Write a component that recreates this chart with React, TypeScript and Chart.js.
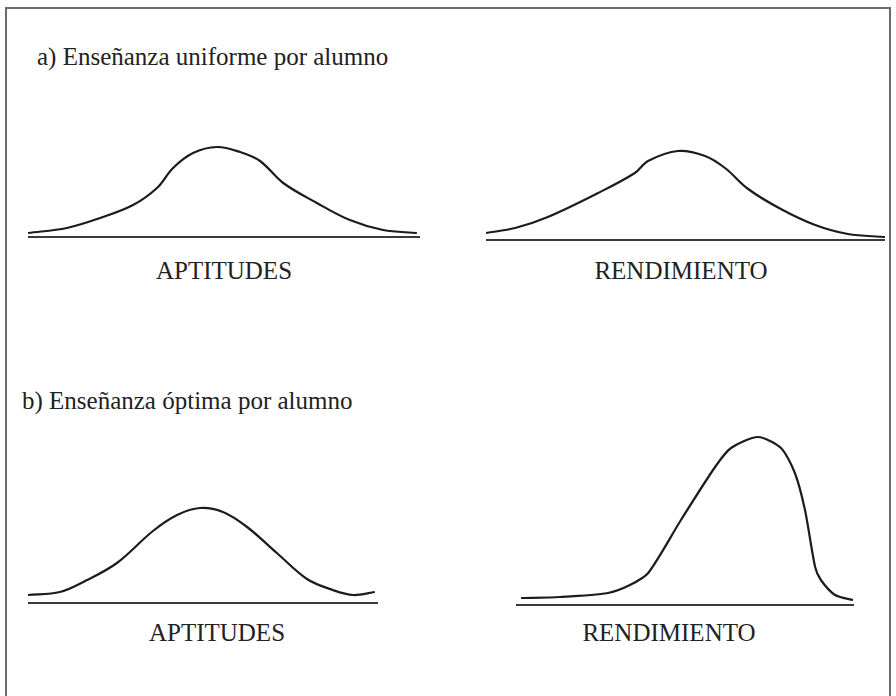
import React, { useEffect, useRef } from "react";
import { Chart, registerables } from "chart.js";

Chart.register(...registerables);

// Horizontal scale: 0–100 across each baseline. Vertical: relative frequency.

// a) Enseñanza uniforme — aptitudes
const uniAptX = [0, 9.9, 18.4, 26.8, 32.9, 37.0, 42.1, 48.2, 54.1, 59.2, 65.1, 73.7, 82.1, 90.6, 99.2];
const uniAptY = [4, 9, 19, 32, 49, 69, 84, 90, 85, 76, 54, 34, 17, 7, 4];

// a) Enseñanza uniforme — rendimiento
const uniRenX = [0, 7.3, 15.5, 28.1, 37.3, 40.6, 48.1, 54.9, 59.9, 65.7, 73.9, 82.5, 90.7, 100];
const uniRenY = [7, 12, 23, 47, 67, 79, 89, 84, 72, 51, 31, 15, 6, 3];

// b) Enseñanza óptima — aptitudes
const optAptX = [0, 9.1, 16.9, 25.4, 35.7, 42.6, 49.1, 55.7, 62.6, 71.1, 79.7, 87.1, 92.9, 99.1];
const optAptY = [8, 11, 23, 40, 72, 88, 95, 91, 76, 50, 24, 13, 8, 11];

// b) Enseñanza óptima — rendimiento
const optRenX = [1.5, 13.0, 27.2, 33.7, 39.1, 48.8, 58.9, 63.6, 71.6, 78.4, 82.5, 85.5, 88.5, 90.2, 94.4, 99.7];
const optRenY = [7, 8, 12, 20, 32, 85, 138, 157, 168, 157, 132, 95, 38, 25, 10, 5];

const sectionTitles = ["a) Enseñanza uniforme por alumno", "b) Enseñanza óptima por alumno"];
const axisLabels = ["APTITUDES", "RENDIMIENTO"];

const SERIF = "'Liberation Serif', 'Times New Roman', 'DejaVu Serif', serif";

type PanelProps = {
  xs: number[];
  ys: number[];
  left: number;
  baseline: number;
  width: number;
  yMax: number;
  tension: number;
};

const Y_MIN = -4;

function CurvePanel({ xs, ys, left, baseline, width, yMax, tension }: PanelProps) {
  const ref = useRef<HTMLCanvasElement | null>(null);
  const height = yMax - Y_MIN;

  useEffect(() => {
    if (!ref.current) return;
    const curve = xs.map((x, i) => ({ x, y: ys[i] }));
    const chart = new Chart(ref.current, {
      type: "line",
      data: {
        datasets: [
          {
            data: [
              { x: 0, y: 0 },
              { x: 100, y: 0 },
            ],
            borderColor: "#3a3a3a",
            borderWidth: 2,
            pointRadius: 0,
          },
          {
            data: curve,
            borderColor: "#1c1c1c",
            borderWidth: 2.2,
            pointRadius: 0,
            tension,
            fill: false,
          },
        ],
      },
      options: {
        animation: false,
        responsive: false,
        maintainAspectRatio: false,
        events: [],
        layout: { padding: 0 },
        plugins: { legend: { display: false }, tooltip: { enabled: false } },
        scales: {
          x: { type: "linear", min: 0, max: 100, display: false },
          y: { type: "linear", min: Y_MIN, max: yMax, display: false },
        },
      },
    });
    return () => chart.destroy();
  }, [xs, ys, yMax, tension]);

  return (
    <canvas
      ref={ref}
      width={width}
      height={height}
      style={{
        position: "absolute",
        left,
        top: baseline - yMax,
        width,
        height,
      }}
    />
  );
}

function Label({ text, x, baseline, align }: { text: string; x: number; baseline: number; align: "left" | "center" }) {
  return (
    <div
      style={{
        position: "absolute",
        left: align === "center" ? x - 150 : x,
        width: align === "center" ? 300 : 500,
        top: baseline - 21,
        textAlign: align,
        fontFamily: SERIF,
        fontSize: 25,
        lineHeight: "25px",
        color: "#222",
        whiteSpace: "nowrap",
      }}
    >
      {text}
    </div>
  );
}

export default function App() {
  return (
    <div
      style={{
        position: "fixed",
        left: 0,
        top: 0,
        width: 896,
        height: 696,
        background: "#ffffff",
        overflow: "hidden",
      }}
    >
      <div
        style={{
          position: "absolute",
          left: 5,
          top: 7,
          width: 882,
          height: 720,
          borderTop: "2px solid #6a6a6a",
          borderLeft: "2px solid #6a6a6a",
          borderRight: "2px solid #6a6a6a",
        }}
      />

      <Label text={sectionTitles[0]} x={37} baseline={65} align="left" />
      <CurvePanel xs={uniAptX} ys={uniAptY} left={28} baseline={237} width={392} yMax={100} tension={0.35} />
      <CurvePanel xs={uniRenX} ys={uniRenY} left={486} baseline={240} width={399} yMax={100} tension={0.35} />
      <Label text={axisLabels[0]} x={224} baseline={279} align="center" />
      <Label text={axisLabels[1]} x={681} baseline={279} align="center" />

      <Label text={sectionTitles[1]} x={22} baseline={409} align="left" />
      <CurvePanel xs={optAptX} ys={optAptY} left={28} baseline={603} width={350} yMax={100} tension={0.35} />
      <CurvePanel xs={optRenX} ys={optRenY} left={516} baseline={605} width={338} yMax={180} tension={0.25} />
      <Label text={axisLabels[0]} x={217} baseline={641} align="center" />
      <Label text={axisLabels[1]} x={669} baseline={641} align="center" />
    </div>
  );
}
